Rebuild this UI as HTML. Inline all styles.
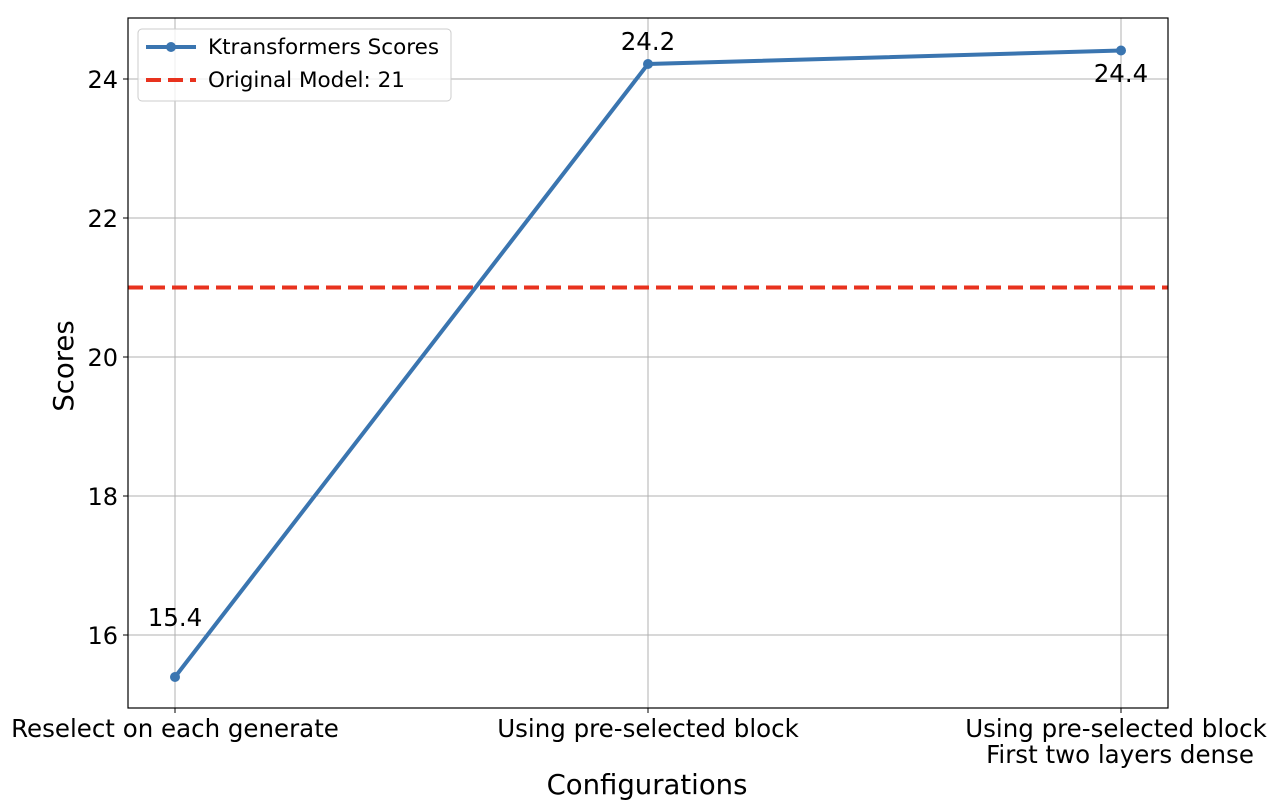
<!DOCTYPE html>
<html><head><style>body{margin:0;background:#fff}</style></head><body>
<svg width="1280" height="803" xmlns="http://www.w3.org/2000/svg" font-family="DejaVu Sans, Liberation Sans, sans-serif">
<rect width="1280" height="803" fill="#fff"/>
<g stroke="#b0b0b0" stroke-width="1">
<line x1="175" y1="18" x2="175" y2="708"/><line x1="648" y1="18" x2="648" y2="708"/><line x1="1121" y1="18" x2="1121" y2="708"/>
<line x1="128" y1="79" x2="1168" y2="79"/><line x1="128" y1="218" x2="1168" y2="218"/><line x1="128" y1="357" x2="1168" y2="357"/><line x1="128" y1="496" x2="1168" y2="496"/><line x1="128" y1="635" x2="1168" y2="635"/>
</g>
<line x1="128" y1="287.5" x2="1168" y2="287.5" stroke="#e8321e" stroke-width="4" stroke-dasharray="15,7"/>
<polyline points="175,677 648,64 1121,50.5" fill="none" stroke="#3a75b0" stroke-width="4"/>
<g fill="#3a75b0"><circle cx="175" cy="677" r="5"/><circle cx="648" cy="64" r="5"/><circle cx="1121" cy="50.5" r="5"/></g>
<rect x="128" y="18" width="1040" height="690" fill="none" stroke="#000" stroke-width="1.2"/>
<g stroke="#000"><line x1="175" y1="708" x2="175" y2="713"/><line x1="648" y1="708" x2="648" y2="713"/><line x1="1121" y1="708" x2="1121" y2="713"/>
<line x1="123" y1="79" x2="128" y2="79"/><line x1="123" y1="218" x2="128" y2="218"/><line x1="123" y1="357" x2="128" y2="357"/><line x1="123" y1="496" x2="128" y2="496"/><line x1="123" y1="635" x2="128" y2="635"/></g>
<g font-size="24" text-anchor="end"><text x="118" y="88">24</text><text x="118" y="227">22</text><text x="118" y="366">20</text><text x="118" y="505">18</text><text x="118" y="644">16</text></g>
<g font-size="24.5" text-anchor="middle">
<text x="175" y="737">Reselect on each generate</text>
<text x="648" y="737">Using pre-selected block</text>
<text x="1116" y="737">Using pre-selected block</text>
<text x="1120" y="763">First two layers dense</text>
<text x="175" y="626">15.4</text><text x="648" y="50">24.2</text><text x="1121" y="82">24.4</text>
<text x="647" y="794" font-size="27.5">Configurations</text>
</g>
<text transform="translate(73,366) rotate(-90)" font-size="27.5" text-anchor="middle">Scores</text>
<rect x="138" y="29" width="313" height="72" rx="4" fill="#fff" fill-opacity="0.8" stroke="#ccc"/>
<line x1="146" y1="47" x2="196" y2="47" stroke="#3a75b0" stroke-width="4"/><circle cx="171" cy="47" r="5" fill="#3a75b0"/>
<line x1="146" y1="80" x2="196" y2="80" stroke="#e8321e" stroke-width="4" stroke-dasharray="15,7"/>
<text x="208" y="54" font-size="21.5">Ktransformers Scores</text>
<text x="208" y="87" font-size="21.5">Original Model: 21</text>
</svg>
</body></html>
